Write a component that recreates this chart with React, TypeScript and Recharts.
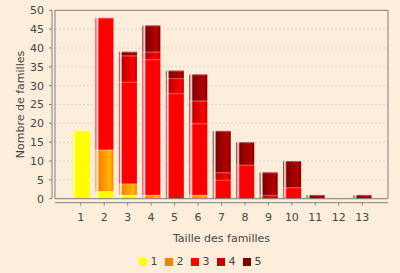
import React from 'react';
import { BarChart, Bar, XAxis, YAxis, CartesianGrid, ReferenceLine, Legend } from 'recharts';

const categories = ['1', '2', '3', '4', '5', '6', '7', '8', '9', '10', '11', '12', '13'];
const series1 = [18, 2, 1, 0, 0, 0, 0, 0, 0, 0, 0, 0, 0];
const series2 = [0, 11, 3, 1, 0, 1, 0, 0, 0, 0, 0, 0, 0];
const series3 = [0, 35, 27, 36, 28, 19, 5, 9, 0, 3, 0, 0, 0];
const series4 = [0, 0, 7, 2, 4, 6, 2, 0, 1, 0, 0, 0, 0];
const series5 = [0, 0, 1, 7, 2, 7, 11, 6, 6, 7, 1, 0, 1];
const yTicks = [0, 5, 10, 15, 20, 25, 30, 35, 40, 45, 50];
const seriesNames = ['1', '2', '3', '4', '5'];
const seriesKeys = ['s1', 's2', 's3', 's4', 's5'];
const seriesColors = ['#FFFF00', '#FF8000', '#FF0000', '#C00000', '#800000'];
const seriesBright = ['#FFFF00', '#FFB600', '#FF0000', '#FF0000', '#B60000'];

const allSeries = [series1, series2, series3, series4, series5];
const data = categories.map((c, i) => {
  const row: Record<string, string | number> = { cat: c };
  seriesKeys.forEach((k, j) => {
    row[k] = allSeries[j][i];
  });
  return row;
});

const FONT = '"DejaVu Sans", sans-serif';
const AXIS = '#808080';
const TEXT = '#444444';
const BG = '#FCEEDB';

const makeShape = (idx: number) => (props: any) => {
  const { x, y, width, height } = props;
  if (!height || height <= 0) return <g />;
  return (
    <g>
      <rect x={x} y={y} width={width} height={height} fill={`url(#grad${idx})`} />
      <line x1={x} x2={x + width} y1={y + 0.5} y2={y + 0.5} stroke="rgba(255,255,255,0.3)" strokeWidth={1} />
    </g>
  );
};

const LegendContent = () => (
  <div
    style={{
      height: 25,
      paddingTop: 2,
      boxSizing: 'border-box',
      display: 'flex',
      justifyContent: 'center',
      alignItems: 'center',
      fontFamily: FONT,
      fontSize: 11,
      color: TEXT,
    }}
  >
    {seriesNames.map((n, i) => (
      <div key={n} style={{ display: 'flex', alignItems: 'center', marginRight: i < seriesNames.length - 1 ? 7 : 0 }}>
        <div style={{ width: 8, height: 8, background: seriesColors[i], marginRight: 4 }} />
        <span>{n}</span>
      </div>
    ))}
  </div>
);

export default function App() {
  return (
    <div style={{ position: 'absolute', left: 0, top: 0, width: 400, height: 273, background: BG, fontFamily: FONT }}>
      <BarChart width={400} height={273} data={data} margin={{ top: 10.3, right: 11, bottom: 0, left: 0 }}>
        <defs>
          {seriesColors.map((c, i) => (
            <linearGradient key={c} id={`grad${i}`} x1="0" y1="0" x2="1" y2="0">
              <stop offset="0" stopColor={c} />
              <stop offset="0.1" stopColor="#FFFFFF" />
              <stop offset="0.2" stopColor={c} />
              <stop offset="0.8" stopColor={seriesBright[i]} />
              <stop offset="1" stopColor={c} />
            </linearGradient>
          ))}
        </defs>
        <CartesianGrid xAxisId="main" yAxisId="main" vertical={false} strokeDasharray="2 2" stroke="#D4D4D4" />
        <XAxis xAxisId="gap" dataKey="cat" height={4} axisLine={false} tick={false} tickLine={false} padding={{ left: 14, right: 14 }} />
        <XAxis
          xAxisId="main"
          dataKey="cat"
          height={45.3}
          interval={0}
          padding={{ left: 14, right: 14 }}
          tickSize={3}
          tickMargin={7}
          axisLine={{ stroke: AXIS }}
          tickLine={{ stroke: AXIS }}
          tick={{ fontSize: 11, fill: TEXT, fontFamily: FONT }}
          label={{ value: 'Taille des familles', position: 'insideTop', offset: 31, fill: TEXT, fontSize: 11, fontFamily: FONT }}
        />
        <YAxis yAxisId="edge" width={3} domain={[0, 50]} ticks={yTicks} axisLine={{ stroke: AXIS }} tick={false} tickLine={false} />
        <YAxis
          yAxisId="main"
          width={52}
          domain={[0, 50]}
          ticks={yTicks}
          interval={0}
          tickSize={3}
          tickMargin={5}
          axisLine={{ stroke: AXIS }}
          tickLine={{ stroke: AXIS }}
          tick={{ fontSize: 11, fill: TEXT, fontFamily: FONT }}
          label={{
            value: 'Nombre de familles',
            angle: -90,
            position: 'insideLeft',
            offset: 20,
            fill: TEXT,
            fontSize: 11,
            fontFamily: FONT,
            style: { textAnchor: 'middle' },
          }}
        />
        <YAxis yAxisId="right" orientation="right" width={1} domain={[0, 50]} axisLine={{ stroke: AXIS }} tick={false} tickLine={false} />
        {seriesKeys.map((k, i) => (
          <Bar
            key={k}
            dataKey={k}
            name={seriesNames[i]}
            stackId="a"
            xAxisId="main"
            yAxisId="main"
            barSize={18}
            fill={seriesColors[i]}
            shape={makeShape(i)}
            isAnimationActive={false}
          />
        ))}
        <ReferenceLine xAxisId="main" yAxisId="main" y={50} stroke={AXIS} />
        <ReferenceLine xAxisId="main" yAxisId="main" y={0} stroke={AXIS} />
        <Legend verticalAlign="bottom" height={25} wrapperStyle={{ left: 0, width: 400 }} content={<LegendContent />} />
      </BarChart>
    </div>
  );
}
